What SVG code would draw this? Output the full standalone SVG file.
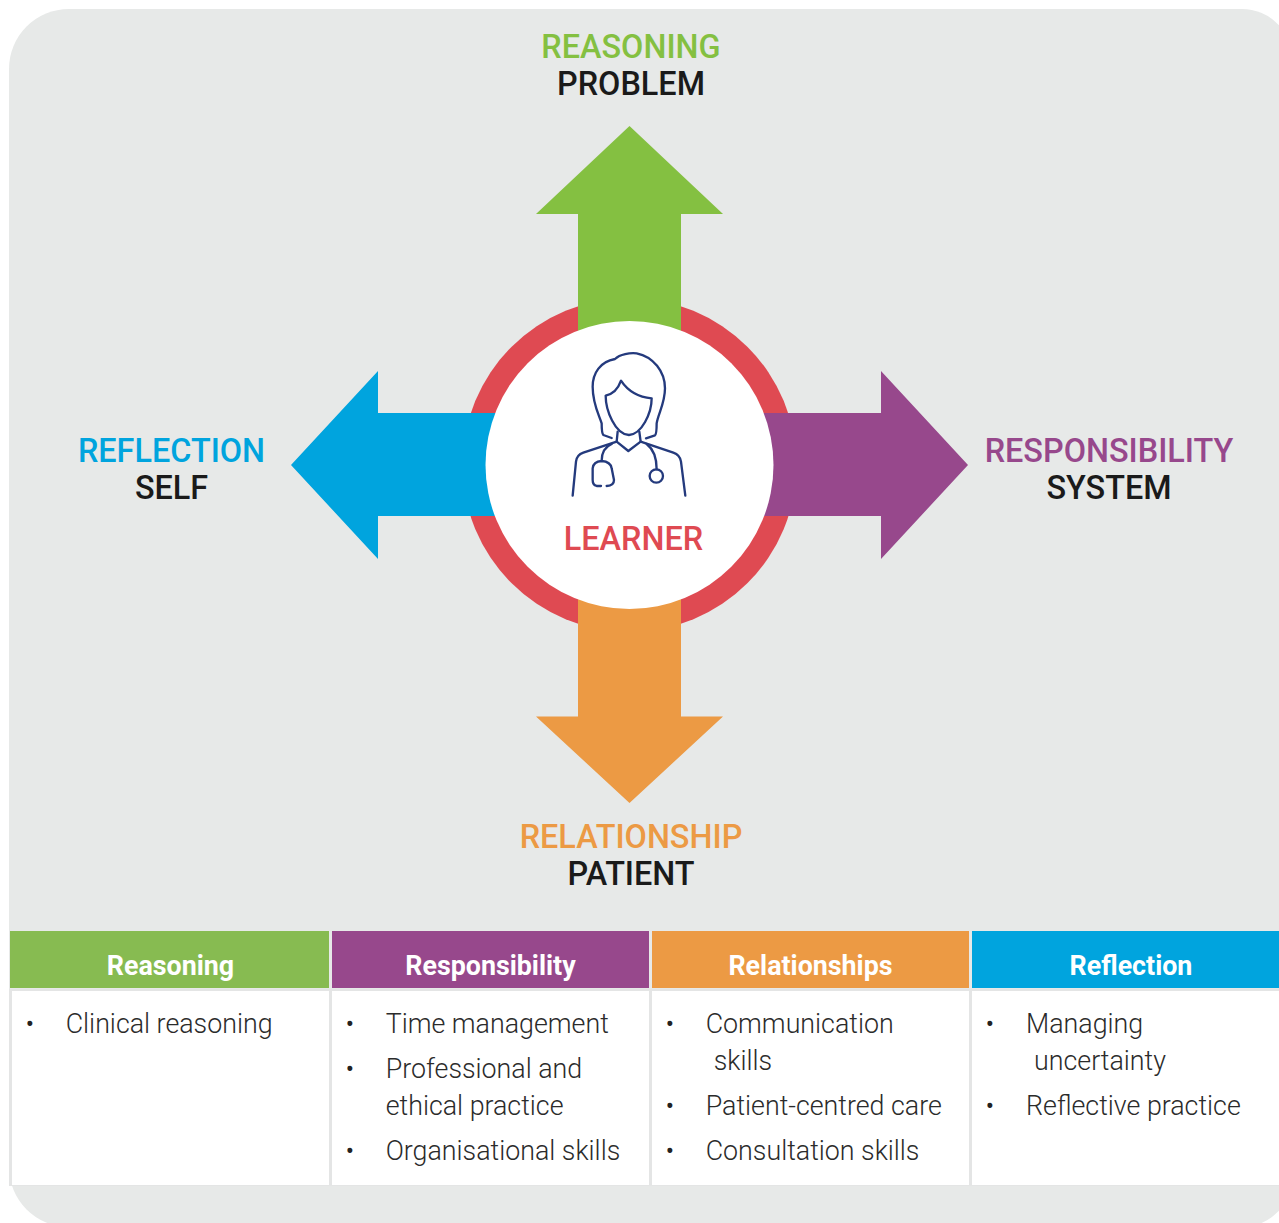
<svg xmlns="http://www.w3.org/2000/svg" width="1279" height="1223" viewBox="0 0 1279 1223">
<style>
text{font-family:Roboto,"Liberation Sans",sans-serif}
.lab{font-size:32.400px;text-anchor:middle;font-weight:500}
.blk{fill:#1a1a1a}
.hd{font-size:26.800px;font-weight:700;fill:#fff;text-anchor:middle}
.it{font-size:26.800px;font-weight:300;fill:#2b2b2b}
.b{fill:#222}
.ic{fill:none;stroke:#243a7d;stroke-width:7;stroke-linecap:round;stroke-linejoin:round}
.cell{fill:#fff}
</style>
<path id="background" d="M69 9H1242A50 50 0 0 1 1292 59V1177A50 50 0 0 1 1242 1227H69A60 60 0 0 1 9 1167V69A60 60 0 0 1 69 9Z" fill="#e7e9e8"/>
<g id="connectors">
<circle cx="629.500" cy="465" r="167" fill="#df4a52"/>
<path id="arrow-reasoning" d="M629.500 126L723 214H681V340H578V214H536Z" fill="#84c041"/>
<path id="arrow-responsibility" d="M968 465L881 371V413H750V516H881V559Z" fill="#97488c"/>
<path id="arrow-relationship" d="M629.500 803L723 716.500H681V590H578V716.500H536Z" fill="#ec9a44"/>
<path id="arrow-reflection" d="M291 465L378 371V413H510V516H378V559Z" fill="#00a4de"/>
</g>
<g id="learner">
<circle cx="629.500" cy="465" r="144" fill="#fff"/>
<g transform="translate(540 340) scale(.3333)" class="ic">
<path d="M215 294L190 285C185 280 185 265 185 250C175 220 158 190 158 140C158 100 180 65 225 57C240 42 270 38 290 40C340 50 375 95 375 145C375 190 355 220 350 250C350 270 350 283 345 286L318 295"/>
<path d="M243 122C235 145 220 162 197 167C197 210 225 283 267 285C305 283 335 220 335 175C300 172 265 155 243 122Z"/>
<path d="M233 275L230 305L265 333L302 305L298 275"/>
<path d="M98 467L108 365Q110 345 130 338L230 305M302 305L400 338Q420 345 423 365L436 467"/>
<path d="M215 312Q185 325 185 362M183 438H170Q158 435 158 420V385Q160 365 185 363Q212 365 215 385L222 420Q222 437 200 438"/>
<path d="M320 312Q350 335 350 388"/>
<circle cx="349" cy="408" r="20"/>
</g>
<text class="lab" x="633.500" y="550" fill="#df4a52">LEARNER</text>
</g>
<g id="label-reasoning"><text class="lab" x="631" y="58" fill="#84c041">REASONING</text><text class="lab blk" x="631" y="95">PROBLEM</text></g>
<g id="label-reflection"><text class="lab" x="171.500" y="462" fill="#00a4de">REFLECTION</text><text class="lab blk" x="171.500" y="499">SELF</text></g>
<g id="label-responsibility"><text class="lab" x="1109" y="462" fill="#97488c">RESPONSIBILITY</text><text class="lab blk" x="1109" y="499">SYSTEM</text></g>
<g id="label-relationship"><text class="lab" x="631" y="848" fill="#ec9a44">RELATIONSHIP</text><text class="lab blk" x="631" y="885">PATIENT</text></g>
<g id="table">
<rect x="9" y="989" width="1270" height="197" fill="#e4e5e5"/>
<g id="col-reasoning">
<rect x="10" y="931" width="319" height="57" fill="#87bb51"/>
<rect class="cell" x="12" y="991" width="317" height="194"/>
<text class="hd" x="170.500" y="975">Reasoning</text>
<text class="it b" x="25.500" y="1033">•</text><text class="it" x="65.700" y="1033">Clinical reasoning</text>
</g>
<g id="col-responsibility">
<rect x="332" y="931" width="317" height="57" fill="#97488c"/>
<rect class="cell" x="332" y="991" width="317" height="194"/>
<text class="hd" x="490.500" y="975">Responsibility</text>
<text class="it b" x="345.500" y="1033">•</text><text class="it" x="385.700" y="1033">Time management</text>
<text class="it b" x="345.500" y="1078">•</text><text class="it" x="385.700" y="1078">Professional and</text>
<text class="it" x="385.700" y="1115">ethical practice</text>
<text class="it b" x="345.500" y="1160">•</text><text class="it" x="385.700" y="1160">Organisational skills</text>
</g>
<g id="col-relationships">
<rect x="652" y="931" width="317" height="57" fill="#ec9a44"/>
<rect class="cell" x="652" y="991" width="317" height="194"/>
<text class="hd" x="810.500" y="975">Relationships</text>
<text class="it b" x="665.500" y="1033">•</text><text class="it" x="705.700" y="1033">Communication</text>
<text class="it" x="713.700" y="1070">skills</text>
<text class="it b" x="665.500" y="1115">•</text><text class="it" x="705.700" y="1115">Patient-centred care</text>
<text class="it b" x="665.500" y="1160">•</text><text class="it" x="705.700" y="1160">Consultation skills</text>
</g>
<g id="col-reflection">
<rect x="972" y="931" width="307" height="57" fill="#00a4de"/>
<rect class="cell" x="972" y="991" width="307" height="194"/>
<text class="hd" x="1131" y="975">Reflection</text>
<text class="it b" x="985.500" y="1033">•</text><text class="it" x="1026" y="1033">Managing</text>
<text class="it" x="1034" y="1070">uncertainty</text>
<text class="it b" x="985.500" y="1115">•</text><text class="it" x="1026" y="1115">Reflective practice</text>
</g>
</g>
</svg>
